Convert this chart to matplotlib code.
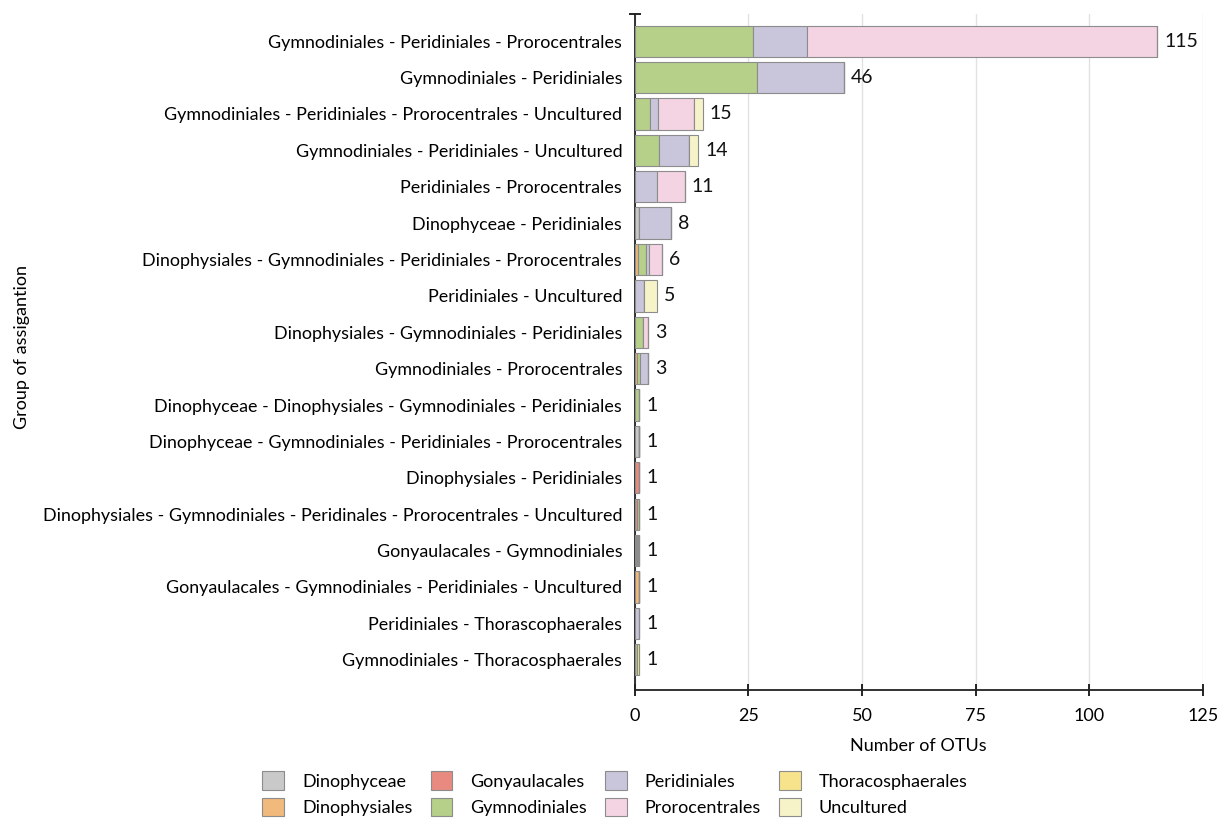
import matplotlib.pyplot as plt
from matplotlib.patches import Patch
import numpy as np

plt.rcParams['font.family'] = ['Lato', 'DejaVu Sans']

# assignment groups, top to bottom
groups = [
    'Gymnodiniales - Peridiniales - Prorocentrales',
    'Gymnodiniales - Peridiniales',
    'Gymnodiniales - Peridiniales - Prorocentrales - Uncultured',
    'Gymnodiniales - Peridiniales - Uncultured',
    'Peridiniales - Prorocentrales',
    'Dinophyceae - Peridiniales',
    'Dinophysiales - Gymnodiniales - Peridiniales - Prorocentrales',
    'Peridiniales - Uncultured',
    'Dinophysiales - Gymnodiniales - Peridiniales',
    'Gymnodiniales - Prorocentrales',
    'Dinophyceae - Dinophysiales - Gymnodiniales - Peridiniales',
    'Dinophyceae - Gymnodiniales - Peridiniales - Prorocentrales',
    'Dinophysiales - Peridiniales',
    'Dinophysiales - Gymnodiniales - Peridinales - Prorocentrales - Uncultured',
    'Gonyaulacales - Gymnodiniales',
    'Gonyaulacales - Gymnodiniales - Peridiniales - Uncultured',
    'Peridiniales - Thorascophaerales',
    'Gymnodiniales - Thoracosphaerales',
]
totals = [115, 46, 15, 14, 11, 8, 6, 5, 3, 3, 1, 1, 1, 1, 1, 1, 1, 1]

orders = ['Dinophyceae', 'Dinophysiales', 'Gonyaulacales', 'Gymnodiniales',
          'Peridiniales', 'Prorocentrales', 'Thoracosphaerales', 'Uncultured']
colors = ['#c9c9c9', '#f1b97c', '#e98a80', '#b6cf89',
          '#c9c6dc', '#f4d3e3', '#f6e38c', '#f6f3c9']

# OTUs per order within each group (same row order as groups)
dinophyceae       = [0, 0, 0, 0, 0, 1.0, 0, 0, 0, 0, 0, 1.0, 0, 0, 0, 0, 0, 0]
dinophysiales     = [0, 0, 0, 0, 0, 0, 0.7, 0, 0, 0.6, 0, 0, 0, 0, 0.25, 1.0, 0, 0]
gonyaulacales     = [0, 0, 0, 0, 0, 0, 0, 0, 0, 0, 0, 0, 1.0, 0.5, 0.25, 0, 0, 0]
gymnodiniales     = [26, 27, 3.3, 5.3, 0, 0, 1.7, 0, 1.8, 0.5, 1.0, 0, 0, 0.5, 0.25, 0, 0, 0.5]
peridiniales      = [12, 19, 1.8, 6.6, 4.8, 7.0, 0.7, 2.0, 0, 1.9, 0, 0, 0, 0, 0.25, 0, 1.0, 0]
prorocentrales    = [77, 0, 7.9, 0, 6.2, 0, 2.9, 0, 1.2, 0, 0, 0, 0, 0, 0, 0, 0, 0]
thoracosphaerales = [0, 0, 0, 0, 0, 0, 0, 0, 0, 0, 0, 0, 0, 0, 0, 0, 0, 0.5]
uncultured        = [0, 0, 2.0, 2.1, 0, 0, 0, 3.0, 0, 0, 0, 0, 0, 0, 0, 0, 0, 0]

series = [dinophyceae, dinophysiales, gonyaulacales, gymnodiniales,
          peridiniales, prorocentrales, thoracosphaerales, uncultured]

fig = plt.figure(figsize=(12.3, 8.19), dpi=100)
ax = fig.add_axes([0.516, 0.158, 0.462, 0.825])

y = np.arange(len(groups))
left = np.zeros(len(groups))
for name, vals, c in zip(orders, series, colors):
    vals = np.array(vals, dtype=float)
    ax.barh(y, vals, left=left, height=0.86, color=c, edgecolor='#8c8c8c',
            linewidth=0.8, label=name, zorder=3)
    left += vals

for yi, t in zip(y, totals):
    ax.text(t + 1.5, yi, str(t), va='center', ha='left', fontsize=14, color='#111111')

ax.set_xlim(0, 125)
ax.set_ylim(17.82, -0.75)
ax.set_xticks([0, 25, 50, 75, 100, 125])
ax.set_yticks(y)
ax.set_yticklabels(groups, fontsize=12.9)
ax.tick_params(axis='y', length=0, pad=9)
ax.tick_params(axis='x', direction='inout', length=8, width=1.2, labelsize=13, pad=9)
ax.set_yticks([-0.75], minor=True)
ax.tick_params(axis='y', which='minor', direction='inout', length=8, width=1.2)

ax.grid(axis='x', color='#e2e2e2', linewidth=1, zorder=0)
for side in ['top', 'right']:
    ax.spines[side].set_visible(False)
for side in ['left', 'bottom']:
    ax.spines[side].set_linewidth(1.3)
    ax.spines[side].set_color('#222222')

ax.set_xlabel('Number of OTUs', fontsize=13, labelpad=10)
fig.text(0.018, 0.576, 'Group of assigantion', rotation=90, va='center', ha='center', fontsize=13)

handles = [Patch(facecolor=c, edgecolor='#8c8c8c', linewidth=0.8) for c in colors]
fig.legend(handles, orders, ncol=4, loc='upper center', bbox_to_anchor=(0.5, 0.058),
           frameon=False, fontsize=13, handlelength=1.2, handleheight=1.2,
           columnspacing=1.0, labelspacing=0.42, handletextpad=1.0,
           borderaxespad=0, borderpad=0)

plt.savefig('out.png', dpi=100)
